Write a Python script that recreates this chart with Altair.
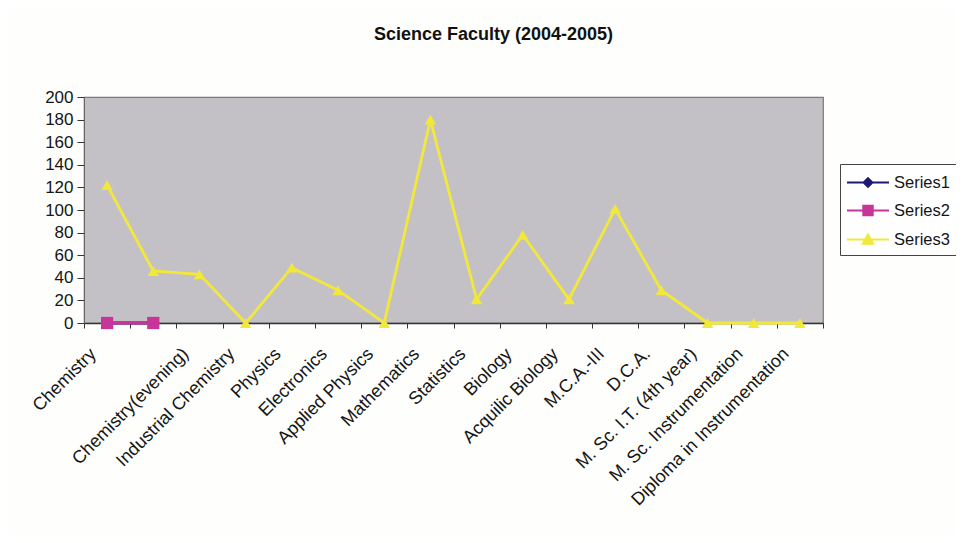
import altair as alt
import pandas as pd

categories = ["Chemistry", " ", "Chemistry(evening)", "Industrial Chemistry", "Physics",
              "Electronics", "Applied Physics", "Mathematics", "Statistics", "Biology",
              "Acquilic Biology", "M.C.A.-III", "D.C.A.", "M. Sc. I.T. (4th year)",
              "M. Sc. Instrumentation", "Diploma in Instrumentation"]
series_names = ["Series1", "Series2", "Series3"]
series1 = [0, 0, None, None, None, None, None, None, None, None, None, None, None, None, None, None]
series2 = [0, 0, None, None, None, None, None, None, None, None, None, None, None, None, None, None]
series3 = [122, 46, 43, 0, 49, 29, 0, 180, 21, 78, 21, 101, 29, 0, 0, 0]
y_ticks = [0, 20, 40, 60, 80, 100, 120, 140, 160, 180, 200]

colors = ["#1c1a70", "#c8359a", "#f2e83a"]
marker_shapes = ["diamond", "square", "triangle-up"]
legend_paths = [
    "M-2,0L2,0M0,-0.42L0.42,0L0,0.42L-0.42,0Z",
    "M-2,0L2,0M-0.45,-0.45L0.45,-0.45L0.45,0.45L-0.45,0.45Z",
    "M-2,0L2,0M0,-0.48L0.5,0.4L-0.5,0.4Z",
]

rows = []
for name, vals in zip(series_names, [series1, series2, series3]):
    for i, (c, v) in enumerate(zip(categories, vals)):
        if v is not None:
            rows.append({"cat": c, "order": i, "series": name, "value": v})
df = pd.DataFrame(rows)

FONT = "Liberation Sans"

x_enc = alt.X("cat:N", sort=categories,
              scale=alt.Scale(type="band", domain=categories, paddingInner=0, paddingOuter=0),
              axis=alt.Axis(title=None, labelAngle=-45, labelAlign="right", labelBaseline="middle",
                            labelFontSize=18, labelFont=FONT, labelColor="#151515",
                            labelPadding=23, labelOffset=-14, labelOverlap=False, labelLimit=0,
                            tickBand="extent", tickSize=5, tickColor="#333333",
                            domainColor="#333333", domainWidth=1.5))
y_enc = alt.Y("value:Q", scale=alt.Scale(domain=[0, 200], nice=False),
              axis=alt.Axis(title=None, values=y_ticks, grid=False, labelFontSize=17,
                            labelFont=FONT, labelColor="#151515", tickSize=7,
                            labelPadding=4, tickColor="#333333", domainColor="#666666"))
color_scale = alt.Scale(domain=series_names, range=colors)

base = alt.Chart(df)

lines = base.mark_line(strokeWidth=2.8).encode(
    x=x_enc, y=y_enc,
    color=alt.Color("series:N", scale=color_scale, legend=None),
    order="order:Q",
    detail="series:N",
)

point_layers = []
for name, shp, sz in zip(series_names, marker_shapes, [80, 150, 130]):
    point_layers.append(
        base.transform_filter(alt.datum.series == name).mark_point(
            filled=True, shape=shp, size=sz, opacity=1
        ).encode(
            x=x_enc, y=y_enc,
            color=alt.Color("series:N", scale=color_scale, legend=None),
        )
    )

leg = alt.Legend(title=None, orient="none", legendX=756, legendY=67,
                 strokeColor="#444444", fillColor="white", padding=7,
                 symbolSize=441, symbolStrokeWidth=2, symbolOffset=9.5,
                 labelFontSize=16.5, labelFont=FONT, labelColor="#151515",
                 labelOffset=14.5, rowPadding=8, symbolOpacity=1)

legend_layer = base.mark_point(
    filled=True, size=441, strokeWidth=2, opacity=0
).encode(
    x=x_enc, y=y_enc,
    fill=alt.Fill("series:N", scale=alt.Scale(domain=series_names, range=colors), legend=leg),
    stroke=alt.Stroke("series:N", scale=alt.Scale(domain=series_names, range=colors), legend=leg),
    shape=alt.Shape("series:N", scale=alt.Scale(domain=series_names, range=legend_paths), legend=leg),
)

chart = alt.layer(legend_layer, lines, *point_layers).properties(
    width=739, height=226,
    title=alt.Title("Science Faculty (2004-2005)", font=FONT, fontSize=18, fontWeight="bold",
                    anchor="middle", frame="bounds", offset=44, color="#111111"),
    padding={"left": 76, "top": 89, "right": 133, "bottom": 212},
    autosize=alt.AutoSizeParams(type="none"),
    background="#fefefc",
).configure_view(fill="#c4c1c6", stroke="#7a7a7a", strokeWidth=1.2)

chart.save("out.html", embed_options={"renderer": "svg", "actions": False})
